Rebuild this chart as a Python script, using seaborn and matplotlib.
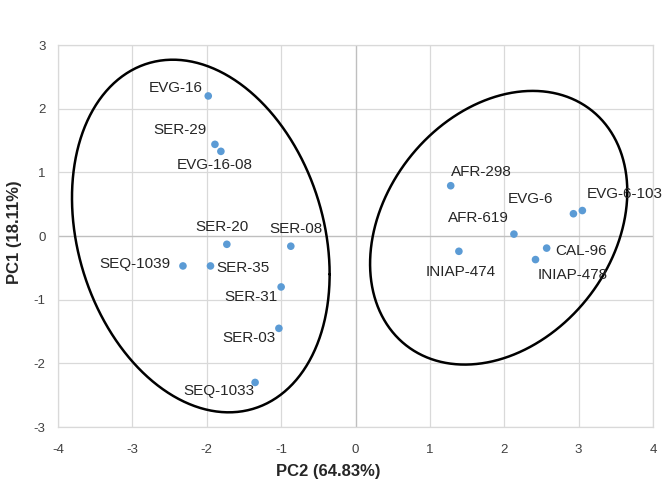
import numpy as np
import pandas as pd
import seaborn as sns
import matplotlib.pyplot as plt

# genotype scores on the first two principal components
names = ["EVG-16", "SER-29", "EVG-16-08", "SER-20", "SER-08", "SEQ-1039", "SER-35",
         "SER-31", "SER-03", "SEQ-1033", "AFR-298", "EVG-6", "EVG-6-103", "AFR-619",
         "INIAP-474", "CAL-96", "INIAP-478"]
pc2 = [-1.98, -1.89, -1.81, -1.73, -0.87, -2.32, -1.95,
       -1.00, -1.03, -1.35, 1.28, 2.93, 3.05, 2.13,
       1.39, 2.57, 2.42]
pc1 = [2.20, 1.44, 1.33, -0.13, -0.16, -0.47, -0.47,
       -0.80, -1.45, -2.30, 0.79, 0.35, 0.40, 0.03,
       -0.24, -0.19, -0.37]

# group ellipses: centre (pc2, pc1) and covariance-like spread
ellipse_centers = [(-2.08, 0.0), (1.925, 0.13)]
ellipse_spreads = [[[3.0, -1.04], [-1.04, 7.67]], [[2.99, 0.98], [0.98, 4.62]]]

# label placement (ha, dx px, dy px)
label_pos = {
    "EVG-16": ("right", -5, 8), "SER-29": ("right", -8, 14), "EVG-16-08": ("center", -6, -14),
    "SER-20": ("center", -5, 17), "SER-08": ("center", 5, 17), "SEQ-1039": ("right", -12, 2),
    "SER-35": ("left", 6, -2), "SER-31": ("right", -4, -10), "SER-03": ("right", -3, -10),
    "SEQ-1033": ("right", -1, -9), "AFR-298": ("left", 0, 14), "EVG-6": ("right", -20, 15),
    "EVG-6-103": ("left", 4, 17), "AFR-619": ("right", -5, 16), "INIAP-474": ("center", 2, -21),
    "CAL-96": ("left", 9, -3), "INIAP-478": ("left", 2, -15),
}

df = pd.DataFrame({"name": names, "PC2": pc2, "PC1": pc1})

sns.set_style("white")
plt.rcParams["axes.unicode_minus"] = False
fig = plt.figure(figsize=(6.66, 4.8), dpi=100)
ax = fig.add_axes([0.0871, 0.1104, 0.8934, 0.7958])

ax.set_xlim(-4, 4)
ax.set_ylim(-3, 3)
ax.set_xticks(range(-4, 5))
ax.set_yticks(range(-3, 4))
ax.grid(True, color="#d9d9d9", linewidth=0.9)
ax.axvline(0, color="#bfbfbf", linewidth=0.9, zorder=1)
ax.axhline(0, color="#bfbfbf", linewidth=0.9, zorder=1)
for s in ax.spines.values():
    s.set_color("#d9d9d9")
    s.set_linewidth(0.9)

sns.scatterplot(data=df, x="PC2", y="PC1", ax=ax, color="#5b9bd5", s=30,
                edgecolor="none", zorder=3)

# group ellipses
t = np.linspace(0, 2 * np.pi, 300)
for c, cov in zip(ellipse_centers, ellipse_spreads):
    L = np.linalg.cholesky(np.array(cov))
    pts = L @ np.vstack([np.cos(t), np.sin(t)])
    ax.plot(c[0] + pts[0], c[1] + pts[1], color="black", linewidth=1.8, zorder=2)

for n, x, y in zip(names, pc2, pc1):
    ha, dx, dy = label_pos[n]
    ax.annotate(n, (x, y), xytext=(dx, dy), textcoords="offset pixels",
                ha=ha, va="center", fontsize=11, family="Liberation Sans",
                color="#262626", zorder=4)

ax.tick_params(length=0, labelsize=9.5, labelcolor="#404040")
ax.tick_params(axis="x", pad=12)
ax.tick_params(axis="y", pad=9)
for lab in ax.get_xticklabels() + ax.get_yticklabels():
    lab.set_family("Liberation Sans")

ax.set_xlabel("PC2 (64.83%)", fontsize=12, fontweight="bold", family="Liberation Sans")
ax.set_ylabel("PC1 (18.11%)", fontsize=12, fontweight="bold", family="Liberation Sans")
ax.xaxis.set_label_coords(0.455, -0.097)
ax.yaxis.set_label_coords(-0.06, 0.51)

fig.savefig("out.png", dpi=100)
